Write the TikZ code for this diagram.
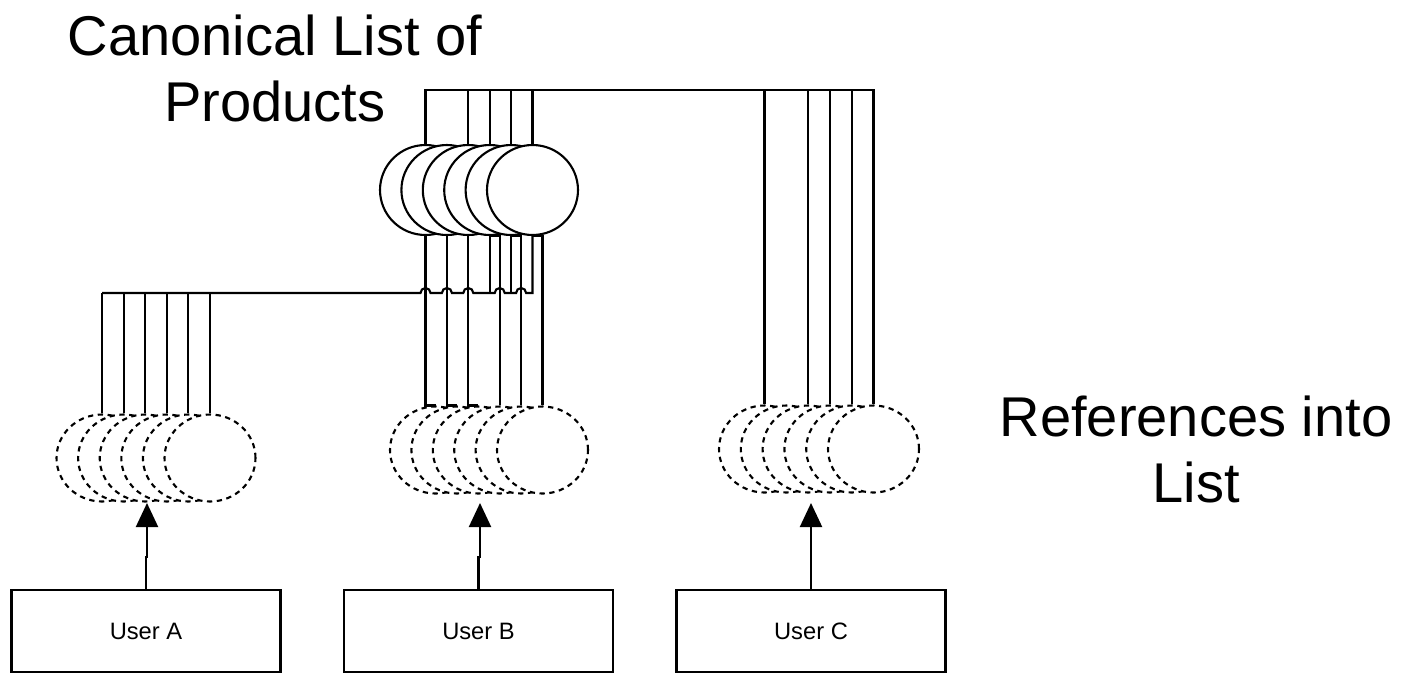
\documentclass[tikz,border=0pt]{standalone}
\usepackage{fontspec}
\setmainfont{Liberation Sans}
\usetikzlibrary{arrows.meta,shapes.geometric,calc}

\begin{document}
\begin{tikzpicture}[x=0.02cm,y=-0.02cm,
every node/.style={font=\normalsize},
prod/.style={draw,ellipse,fill=white,line width=1.2pt,minimum width=1.82cm,
minimum height=1.8cm,inner sep=0pt},
refl/.style={prod,dash pattern=on 3pt off 2.6pt,minimum height=1.74cm},
userbox/.style={draw,line width=1.2pt,minimum width=5.38cm,minimum height=1.64cm,
font=\fontsize{13.5}{16}\selectfont},
bigtext/.style={align=center,inner sep=0pt,font=\fontsize{31.9}{37.6}\selectfont},
wire/.style={line width=1.2pt},
arr/.style={wire,-{Triangle[width=0.44cm,length=0.48cm]}}
]
\useasboundingbox (0,0) rectangle (1402,674);

\node[bigtext] (title) at (275,68) {Canonical List of\\Products};
\node[bigtext] (reflabel) at (1196,449) {References into\\List};

% canonical list and the three lists of references
\foreach \i in {1,...,6} {
  \node[prod] (T\i) at ({425.5+21.4*(\i-1)},190) {};
  \node[refl] (L\i) at ({102+21.6*(\i-1)},458) {};
  \node[refl] (M\i) at ({435.5+21.4*(\i-1)},450) {};
  \node[refl] (R\i) at ({764.5+21.8*(\i-1)},449) {};
}

\node[userbox] (ua) at (146,631) {User A};
\node[userbox] (ub) at (478.5,631) {User B};
\node[userbox] (uc) at (811,631) {User C};

% top bus to the right list
\coordinate (topbus) at (0,90);
\foreach \i in {1,3,4,5,6}
  \draw[wire] (T\i.north) -- (T\i.north |- topbus) -| (R\i.north);

% straight down to the middle list
\foreach \i in {1,2,3}
  \draw[wire] (T\i.south) |- (M\i.north);
\foreach \i in {4,5,6}
  \draw[wire] (T\i.south) -| (M\i.north);

% bus to the left list, hopping over the wires
\coordinate (bus) at (0,293);
\foreach \i in {1,...,6}
  \draw[wire] (L\i.north) -- (L\i.north |- bus);
\foreach \i in {4,5}
  \draw[wire] (T\i.south) -- (T\i.south |- bus);
\draw[wire] (L1.north |- bus)
  foreach \n in {T1.south,T2.south,T3.south,M4.north,M5.north}
    {-- ($(\n |- bus)+(-5,0)$) arc[start angle=180,end angle=0,radius=0.1cm]}
  -- (T6.south |- bus) -- (T6.south);

% users point at their lists
\coordinate (tipA) at (147,503);
\coordinate (tipB) at (480,503);
\coordinate (tipC) at (811,503);
\draw[arr] (ua.north) -- ++(0,-32) -| (tipA);
\draw[arr] (ub.north) -- ++(0,-32) -| (tipB);
\draw[arr] (uc.north) -- (tipC);
\end{tikzpicture}
\end{document}
